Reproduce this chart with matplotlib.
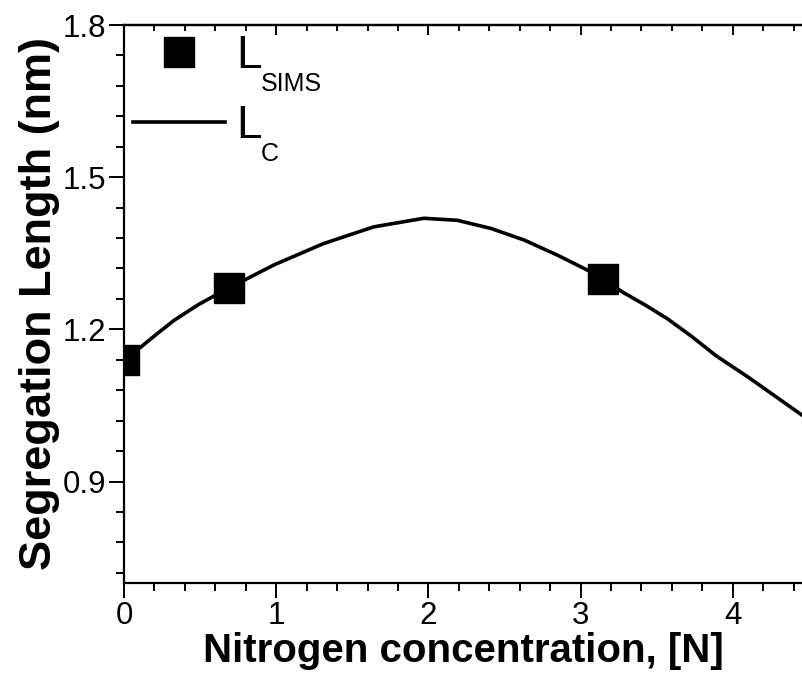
import numpy as np
import matplotlib.pyplot as plt

plt.rcParams['font.family'] = ['Liberation Sans', 'DejaVu Sans']

# measured points (SIMS)
n_sims = [0.0, 0.69, 3.15]
l_sims = [1.140, 1.281, 1.300]

# calculated curve
n_calc = [0.0, 0.11, 0.22, 0.33, 0.49, 0.66, 0.985, 1.31, 1.64, 1.97, 2.19, 2.41, 2.63,
          2.85, 3.07, 3.29, 3.43, 3.57, 3.73, 3.89, 4.11, 4.44, 4.6]
l_calc = [1.140, 1.165, 1.192, 1.218, 1.249, 1.277, 1.327, 1.369, 1.402, 1.419, 1.415,
          1.399, 1.376, 1.346, 1.313, 1.271, 1.247, 1.221, 1.186, 1.148, 1.104, 1.034, 1.00]

fig = plt.figure(figsize=(8.02, 6.77), dpi=100)
ax = fig.add_axes([124/802, 94/677, 761/802, 558/677])

ax.plot(n_sims, l_sims, 's', color='black', ms=21, label='L', zorder=3)
ax.plot(n_calc, l_calc, '-', color='black', lw=2.6, label='L',
        solid_joinstyle='round')

ax.set_xlim(0, 5)
ax.set_ylim(0.7, 1.8)
ax.set_xticks([0, 1, 2, 3, 4])
ax.set_xticks(np.arange(0, 4.41, 0.2), minor=True)
ax.set_yticks([0.9, 1.2, 1.5, 1.8])
ax.set_yticks(np.arange(0.72, 1.801, 0.06), minor=True)
ax.set_yticklabels(['0.9', '1.2', '1.5', '1.8'])

for s in ['left', 'bottom', 'top']:
    ax.spines[s].set_linewidth(1.6)
ax.spines['right'].set_visible(False)
ax.tick_params(which='major', direction='out', length=11, width=1.4, labelsize=22.5, pad=2)
ax.tick_params(which='minor', direction='out', length=6, width=1.4)

top = ax.secondary_xaxis('top')
top.set_xticks([0, 1, 2, 3, 4])
top.set_xticks(np.arange(0, 4.41, 0.2), minor=True)
top.tick_params(which='major', direction='in', length=7, width=1.4, labeltop=False)
top.tick_params(which='minor', direction='in', length=4, width=1.4)
top.spines['top'].set_linewidth(1.6)

ax.set_xlabel('Nitrogen concentration, [N]', fontsize=29, fontweight='bold')
ax.xaxis.set_label_coords(339/761, -0.087, transform=ax.transAxes)
ax.xaxis.label.set_va('top')
ax.set_ylabel('Segregation Length (nm)', fontsize=32.5, fontweight='bold', labelpad=2)

leg = ax.legend(loc='upper left', frameon=False, fontsize=33, handlelength=2.0,
                handletextpad=0.25, borderaxespad=0.0, labelspacing=0.56,
                borderpad=0.2)
subs = ['SIMS', 'C']
for t, sub in zip(leg.get_texts(), subs):
    ax.annotate(sub, xy=(1, 0), xycoords=t, xytext=(-1, 4.5), textcoords='offset points',
                fontsize=18, ha='left', va='top', zorder=10)

plt.savefig('out.png', dpi=100)
